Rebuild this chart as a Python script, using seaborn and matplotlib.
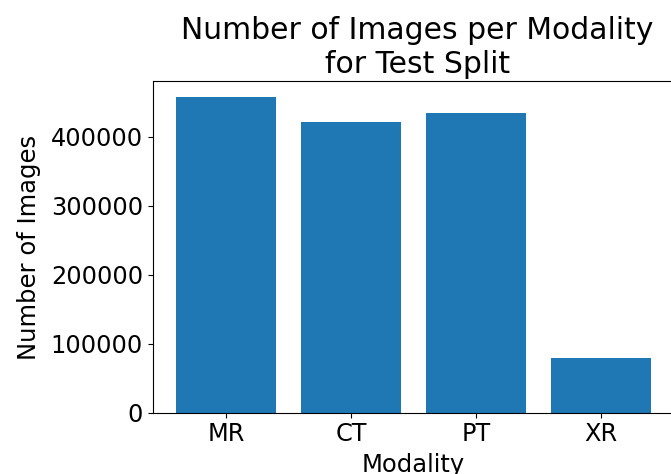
import matplotlib
matplotlib.use("Agg")
import matplotlib.pyplot as plt
import seaborn as sns
import pandas as pd

modalities = ["MR", "CT", "PT", "XR"]
image_counts = [457500, 421000, 435000, 80000]

df = pd.DataFrame({"Modality": modalities, "Number of Images": image_counts})

fig = plt.figure(figsize=(6.71, 4.74), dpi=100)
ax = fig.add_axes([0.2276, 0.1293, 0.7776, 0.6992])
sns.barplot(data=df, x="Modality", y="Number of Images", color="#1f77b4",
            saturation=1, width=0.8, ax=ax)
ax.set_xlim(-0.59, 3.59)
ax.set_ylim(0, 480600)
ax.set_title("Number of Images per Modality\nfor Test Split", fontsize=21.5, x=0.507)
ax.set_xlabel("Modality", fontsize=17.5, labelpad=5)
ax.set_ylabel("Number of Images", fontsize=17.5, labelpad=7)
ax.tick_params(labelsize=17.3)
fig.savefig("out.png", dpi=100)
